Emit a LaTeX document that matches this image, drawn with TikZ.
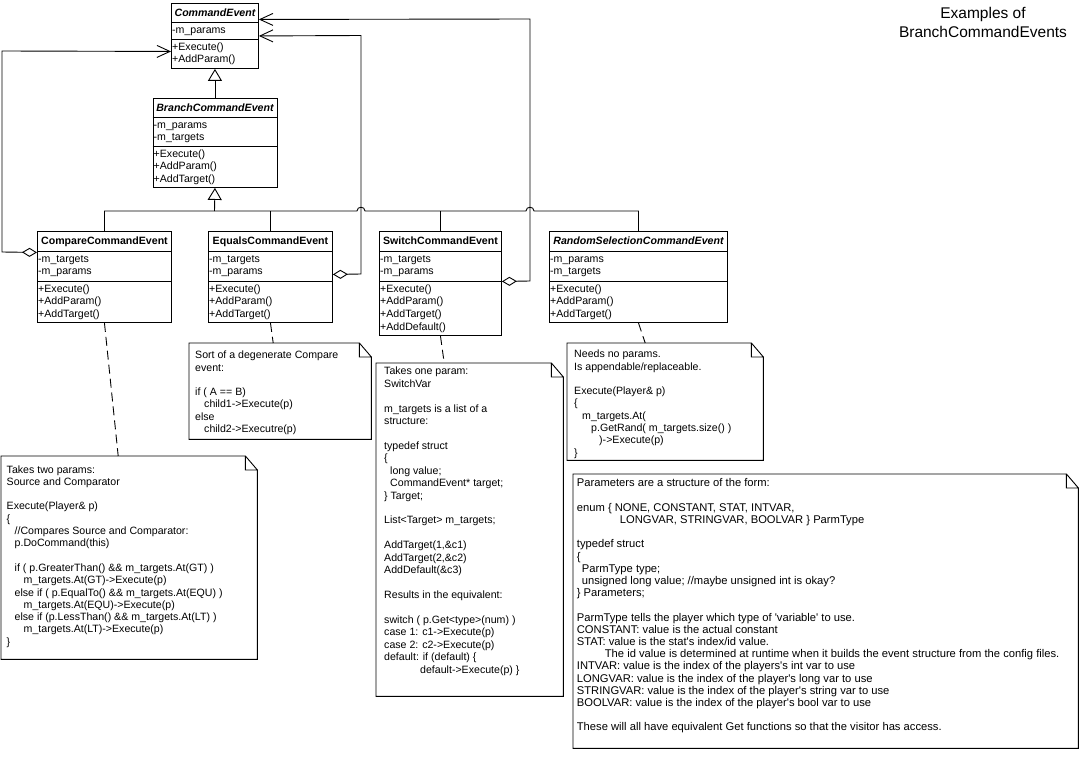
\documentclass[tikz,border=0pt]{standalone}
\usepackage{fontspec}
\setmainfont{Liberation Sans}[Ligatures=TeXOff]
\usetikzlibrary{arrows.meta}
\newcommand\indt[1]{\hspace*{#1pt}}
\newcommand\mknote[5]{%
  \node[notebg, minimum width=#4pt, minimum height=#5pt] (#1) at (#2,#3) {};
  \draw[noteline] (#1.north west) -- ([xshift=-12pt]#1.north east) -- ([yshift=-14pt]#1.north east) -- (#1.south east) -- (#1.south west) -- cycle
    ([xshift=-12pt]#1.north east) -- ([xshift=-12pt,yshift=-14pt]#1.north east) -- ([yshift=-14pt]#1.north east);
}
\tikzset{
  cls/.style={draw, line width=0.9pt, inner sep=0, anchor=north west, fill=white},
  ttl/.style={inner sep=0, font=\fontsize{10.6}{12.7}\selectfont\bfseries, text height=7.5pt, text depth=0pt},
  ttli/.style={ttl, font=\fontsize{10.6}{12.7}\selectfont\bfseries\itshape},
  rows/.style={inner sep=0, anchor=north west, align=left, font=\fontsize{10.6}{12.7}\selectfont},
  notebg/.style={inner sep=0, anchor=north west},
  noteline/.style={draw, line width=0.9pt, line join=miter},
  ntext/.style={inner sep=0, anchor=north west, align=left, font=\fontsize{10.6}{12.3}\selectfont},
  conn/.style={draw, line width=0.9pt},
  agg/.style={conn, {Diamond[open,length=15pt,width=9pt]}-{Straight Barb[length=13pt,width=12pt]}},
  gen/.style={conn, -{Triangle[open,length=12pt,width=14pt]}},
  dashln/.style={conn, dash pattern=on 9pt off 5pt},
}
\begin{document}
\begin{tikzpicture}[x=1pt,y=-1pt]
\fill[white] (0,0) rectangle (1079,760);
\useasboundingbox (0,0) rectangle (1079,760);

% title
\node[font=\fontsize{15.5}{19}\selectfont, align=center, anchor=north, inner sep=0] (title) at (983,5.5) {\strut Examples of\\BranchCommandEvents};

% CommandEvent
\node[cls, minimum width=87pt, minimum height=65pt] (ce) at (171,3) {};
\draw[conn] ([yshift=-19pt]ce.north west) -- ([yshift=-19pt]ce.north east)
            ([yshift=-36pt]ce.north west) -- ([yshift=-36pt]ce.north east);
\node[ttli] (ce-n) at ([yshift=-9.5pt]ce.north) {CommandEvent};
\node[rows] (ce-a) at ([xshift=1pt,yshift=-21.1pt]ce.north west) {\strut-m\_params};
\node[rows] (ce-m) at ([xshift=1pt,yshift=-38.1pt]ce.north west) {\strut+Execute()\\+AddParam()};

% BranchCommandEvent
\node[cls, minimum width=124pt, minimum height=89pt] (bce) at (152.5,98) {};
\draw[conn] ([yshift=-19pt]bce.north west) -- ([yshift=-19pt]bce.north east)
            ([yshift=-48pt]bce.north west) -- ([yshift=-48pt]bce.north east);
\node[ttli] (bce-n) at ([yshift=-9.5pt]bce.north) {BranchCommandEvent};
\node[rows] (bce-a) at ([xshift=1pt,yshift=-21.1pt]bce.north west) {\strut-m\_params\\-m\_targets};
\node[rows] (bce-m) at ([xshift=1pt,yshift=-50.1pt]bce.north west) {\strut+Execute()\\+AddParam()\\+AddTarget()};

% CompareCommandEvent
\node[cls, minimum width=134pt, minimum height=91pt] (cmp) at (37,231) {};
\draw[conn] ([yshift=-20pt]cmp.north west) -- ([yshift=-20pt]cmp.north east)
            ([yshift=-50pt]cmp.north west) -- ([yshift=-50pt]cmp.north east);
\node[ttl] (cmp-n) at ([yshift=-10pt]cmp.north) {CompareCommandEvent};
\node[rows] (cmp-a) at ([xshift=1pt,yshift=-22.1pt]cmp.north west) {\strut-m\_targets\\-m\_params};
\node[rows] (cmp-m) at ([xshift=1pt,yshift=-52.1pt]cmp.north west) {\strut+Execute()\\+AddParam()\\+AddTarget()};

% EqualsCommandEvent
\node[cls, minimum width=124pt, minimum height=91pt] (eq) at (208,231) {};
\draw[conn] ([yshift=-20pt]eq.north west) -- ([yshift=-20pt]eq.north east)
            ([yshift=-50pt]eq.north west) -- ([yshift=-50pt]eq.north east);
\node[ttl] (eq-n) at ([yshift=-10pt]eq.north) {EqualsCommandEvent};
\node[rows] (eq-a) at ([xshift=1pt,yshift=-22.1pt]eq.north west) {\strut-m\_targets\\-m\_params};
\node[rows] (eq-m) at ([xshift=1pt,yshift=-52.1pt]eq.north west) {\strut+Execute()\\+AddParam()\\+AddTarget()};

% SwitchCommandEvent
\node[cls, minimum width=122pt, minimum height=104pt] (sw) at (379,231) {};
\draw[conn] ([yshift=-20pt]sw.north west) -- ([yshift=-20pt]sw.north east)
            ([yshift=-50pt]sw.north west) -- ([yshift=-50pt]sw.north east);
\node[ttl] (sw-n) at ([yshift=-10pt]sw.north) {SwitchCommandEvent};
\node[rows] (sw-a) at ([xshift=1pt,yshift=-22.1pt]sw.north west) {\strut-m\_targets\\-m\_params};
\node[rows] (sw-m) at ([xshift=1pt,yshift=-52.1pt]sw.north west) {\strut+Execute()\\+AddParam()\\+AddTarget()\\+AddDefault()};

% RandomSelectionCommandEvent
\node[cls, minimum width=178pt, minimum height=91pt] (rnd) at (549,231) {};
\draw[conn] ([yshift=-20pt]rnd.north west) -- ([yshift=-20pt]rnd.north east)
            ([yshift=-50pt]rnd.north west) -- ([yshift=-50pt]rnd.north east);
\node[ttli] (rnd-n) at ([yshift=-10pt]rnd.north) {RandomSelectionCommandEvent};
\node[rows] (rnd-a) at ([xshift=1pt,yshift=-22.1pt]rnd.north west) {\strut-m\_params\\-m\_targets};
\node[rows] (rnd-m) at ([xshift=1pt,yshift=-52.1pt]rnd.north west) {\strut+Execute()\\+AddParam()\\+AddTarget()};

% generalization
\coordinate (bj) at (214.5,211);
\draw[gen] (bce.north) -- (bce.north |- ce.south);
\draw[gen] (bj) -- (bce.south);
\draw[conn] (cmp.north) -- (cmp.north |- bj)
  -- (357,211) .. controls (357,206) and (365,206) .. (365,211)
  -- (526,211) .. controls (526,206) and (534,206) .. (534,211)
  -- (rnd.north |- bj) -- (rnd.north);
\draw[conn] (eq.north) -- (eq.north |- bj);
\draw[conn] (sw.north) -- (sw.north |- bj);

% aggregations
\draw[agg, line join=miter] ([yshift=24.5pt]cmp.west) -- (2,252) -- (2,51) -- ([yshift=-15.5pt]ce.west);
\draw[agg, line join=miter] ([yshift=2.5pt]eq.east) -- (361,274) -- (361,35.5) -- (ce.east);
\draw[agg, line join=miter] ([yshift=2pt]sw.east) -- (530,281) -- (530,19) -- ([yshift=16.5pt]ce.east);

% notes
\mknote{cn}{1}{456}{256}{203}
\mknote{en}{189}{343}{182}{96}
\mknote{sn}{376}{363}{187}{333}
\mknote{rn}{567}{343}{196}{117}
\mknote{pn}{573}{474}{505}{274}

\draw[dashln] (cmp.south) -- ([xshift=-11pt]cn.north);
\draw[dashln] (eq.south) -- ([xshift=-7pt]en.north);
\draw[dashln] (sw.south) -- ([xshift=-25.5pt]sn.north);
\draw[dashln] (rnd.south) -- ([xshift=-20pt]rn.north);

\node[ntext] (cn-t) at (6.5,464.2) {\strut Takes two params:\\
Source and Comparator\\
~\\
Execute(Player\& p)\\
\{\\
\indt{8}//Compares Source and Comparator:\\
\indt{8}p.DoCommand(this)\\
~\\
\indt{8}if ( p.GreaterThan() \&\& m\_targets.At(GT) )\\
\indt{17}m\_targets.At(GT)->Execute(p)\\
\indt{8}else if ( p.EqualTo() \&\& m\_targets.At(EQU) )\\
\indt{17}m\_targets.At(EQU)->Execute(p)\\
\indt{8}else if (p.LessThan() \&\& m\_targets.At(LT) )\\
\indt{17}m\_targets.At(LT)->Execute(p)\\
\}};

\node[ntext] (en-t) at (195,349.9) {\strut Sort of a degenerate Compare\\
event:\\
~\\
if ( A == B)\\
\indt{9}child1->Execute(p)\\
else\\
\indt{9}child2->Executre(p)};

\node[ntext, font=\fontsize{10.6}{12.43}\selectfont] (sn-t) at (384,365.9) {\strut Takes one param:\\
SwitchVar\\
~\\
m\_targets is a list of a\\
structure:\\
~\\
typedef struct\\
\{\\
\indt{6}long value;\\
\indt{6}CommandEvent* target;\\
\} Target;\\
~\\
List<Target> m\_targets;\\
~\\
AddTarget(1,\&c1)\\
AddTarget(2,\&c2)\\
AddDefault(\&c3)\\
~\\
Results in the equivalent:\\
~\\
switch ( p.Get<type>(num) )\\
case 1: c1->Execute(p)\\
case 2: c2->Execute(p)\\
default: if (default) \{\\
\indt{36}default->Execute(p) \}};

\node[ntext] (rn-t) at (574,348.9) {\strut Needs no params.\\
Is appendable/replaceable.\\
~\\
Execute(Player\& p)\\
\{\\
\indt{8}m\_targets.At(\\
\indt{17}p.GetRand( m\_targets.size() )\\
\indt{25})->Execute(p)\\
\}};

\node[ntext, font=\fontsize{11.2}{12.2}\selectfont] (pn-t) at (576.7,478.2) {\strut Parameters are a structure of the form:\\
~\\
enum \{ NONE, CONSTANT, STAT, INTVAR,\\
\indt{43}LONGVAR, STRINGVAR, BOOLVAR \} ParmType\\
~\\
typedef struct\\
\{\\
\indt{5}ParmType type;\\
\indt{5}unsigned long value; //maybe unsigned int is okay?\\
\} Parameters;\\
~\\
ParmType tells the player which type of 'variable' to use.\\
CONSTANT: value is the actual constant\\
STAT: value is the stat's index/id value.\\
\indt{28}The id value is determined at runtime when it builds the event structure from the config files.\\
INTVAR: value is the index of the players's int var to use\\
LONGVAR: value is the index of the player's long var to use\\
STRINGVAR: value is the index of the player's string var to use\\
BOOLVAR: value is the index of the player's bool var to use\\
~\\
These will all have equivalent Get functions so that the visitor has access.};
\end{tikzpicture}
\end{document}
